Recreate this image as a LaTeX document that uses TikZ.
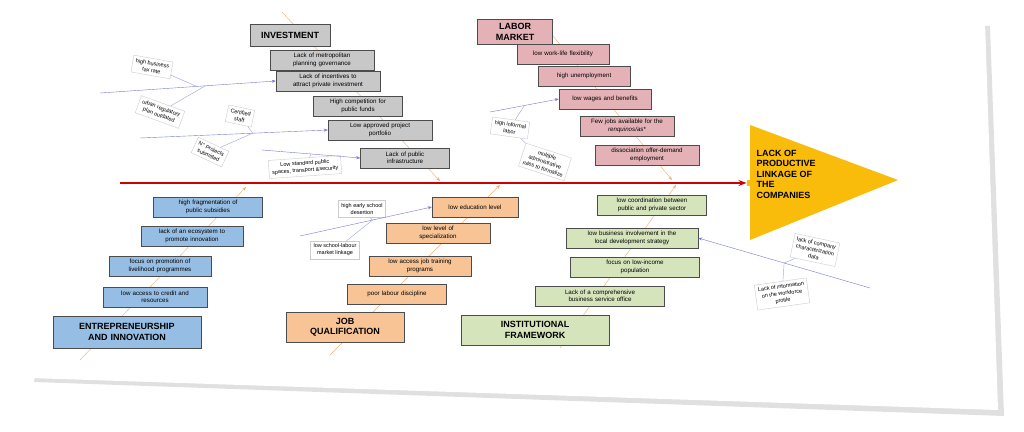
\documentclass[tikz,border=0pt]{standalone}
\usepackage{fontspec}
\setmainfont{Liberation Sans}
\usetikzlibrary{arrows.meta,calc}
\definecolor{invgray}{RGB}{200,200,200}
\definecolor{labpink}{RGB}{228,178,182}
\definecolor{entblue}{RGB}{150,190,228}
\definecolor{joborange}{RGB}{248,196,150}
\definecolor{insgreen}{RGB}{214,228,188}
\definecolor{headyellow}{RGB}{250,188,10}
\tikzstyle{cause}=[draw=black!70, thin, align=center, font=\fontsize{6.2}{7.4}\selectfont, inner sep=2pt, minimum height=20pt]
\tikzstyle{title}=[draw=black!70, thin, align=center, font=\bfseries\fontsize{9}{10.5}\selectfont, inner sep=4pt]
\tikzstyle{note}=[draw=black!20, fill=white, thin, align=center, font=\fontsize{5.5}{7}\selectfont, inner sep=3pt]
\tikzstyle{bone}=[draw=orange!50!brown!60, thin, -{Stealth[length=4pt]}]
\tikzstyle{sub}=[draw=blue!50!gray!70, thin, -{Stealth[length=4pt]}]
\tikzstyle{twig}=[draw=blue!50!gray!50, thin]

\begin{document}
\begin{tikzpicture}[x=1pt, y=-1pt]
\useasboundingbox (0,0) rectangle (1024,431);

% sheet
\fill[black!12] (98,12) -- (990,26) -- (1004,416) -- (34,382) -- cycle;
\fill[white] (94,8) -- (985,22) -- (998,410) -- (30,378) -- cycle;

% head
\node[fill=headyellow, minimum width=1pt] (head) at (750,183) {};
\fill[headyellow] (750,125) -- (898,180) -- (750,240) -- cycle;
\node[align=left, font=\bfseries\fontsize{9}{10.5}\selectfont, anchor=west] (effect) at (753,174) {LACK OF\\PRODUCTIVE\\LINKAGE OF\\THE\\COMPANIES};
\coordinate (tail) at (120,183);
\draw[very thick, red!80!black, -{Stealth[length=8pt]}] (tail) -- (head.west);

% investment
\coordinate (i0) at (282,12);
\coordinate (i1) at (440,181);
\draw[bone] (i0) -- (i1);
\node[title, fill=invgray, minimum width=80pt, minimum height=22pt] (inv) at (290,35) {INVESTMENT};
\node[cause, fill=invgray, text width=100pt] (inv1) at (322,60) {Lack of metropolitan\\planning governance};
\node[cause, fill=invgray, text width=100pt] (inv2) at (328,81) {Lack of incentives to\\attract private investment};
\node[cause, fill=invgray, text width=85pt] (inv3) at (358,106) {High competition for\\public funds};
\node[cause, fill=invgray, text width=100pt] (inv4) at (380,130) {Low approved project\\portfolio};
\node[cause, fill=invgray, text width=85pt] (inv5) at (405,158) {Lack of public\\infrastructure};

% labor market
\coordinate (l0) at (548,30);
\coordinate (l1) at (672,180);
\draw[bone] (l0) -- (l1);
\node[title, fill=labpink, minimum width=75pt] (lab) at (515,32) {LABOR\\MARKET};
\node[cause, fill=labpink, text width=88pt] (lab1) at (563,54) {low work-life flexibility};
\node[cause, fill=labpink, text width=88pt] (lab2) at (584,76) {high unemployment};
\node[cause, fill=labpink, text width=88pt] (lab3) at (605,99) {low wages and benefits};
\node[cause, fill=labpink, text width=90pt] (lab4) at (627,126) {Few jobs available for the\\\textit{renquinos/as}*};
\node[cause, fill=labpink, text width=100pt] (lab5) at (647,155) {dissociation offer-demand\\employment};

% entrepreneurship
\coordinate (e0) at (80,360);
\coordinate (e1) at (246,187);
\draw[bone] (e0) -- (e1);
\node[title, fill=entblue, text width=140pt, minimum height=32pt] (ent) at (127,332) {ENTREPRENEURSHIP\\AND INNOVATION};
\node[cause, fill=entblue, text width=100pt] (ent1) at (155,297) {low access to credit and\\resources};
\node[cause, fill=entblue, text width=98pt] (ent2) at (160,266) {focus on promotion of\\livelihood programmes};
\node[cause, fill=entblue, text width=98pt] (ent3) at (192,236) {lack of an ecosystem to\\promote innovation};
\node[cause, fill=entblue, text width=105pt] (ent4) at (208,207) {high fragmentation of\\public subsidies};

% job qualification
\coordinate (j0) at (330,355);
\coordinate (j1) at (500,185);
\draw[bone] (j0) -- (j1);
\node[title, fill=joborange, text width=110pt, minimum height=30pt] (job) at (345,327) {JOB\\QUALIFICATION};
\node[cause, fill=joborange, text width=95pt] (job1) at (397,294) {poor labour discipline};
\node[cause, fill=joborange, text width=98pt] (job2) at (420,266) {low access job training\\programs};
\node[cause, fill=joborange, text width=100pt] (job3) at (438,233) {low level of\\specialization};
\node[cause, fill=joborange, text width=82pt] (job4) at (475,207) {low education level};

% institutional framework
\coordinate (f0) at (560,348);
\coordinate (f1) at (676,185);
\draw[bone] (f0) -- (f1);
\node[title, fill=insgreen, text width=140pt, minimum height=30pt] (ins) at (535,330) {INSTITUTIONAL\\FRAMEWORK};
\node[cause, fill=insgreen, text width=125pt] (ins1) at (600,296) {Lack of a comprehensive\\business service office};
\node[cause, fill=insgreen, text width=125pt] (ins2) at (635,267) {focus on low-income\\population};
\node[cause, fill=insgreen, text width=128pt] (ins3) at (632,238) {low business involvement in the\\local development strategy};
\node[cause, fill=insgreen, text width=105pt] (ins4) at (652,205) {low coordination between\\public and private sector};

% sub-causes
\node[note, rotate=-10] (n1) at (152,67) {high business\\tax rate};
\node[note, rotate=-20] (n2) at (160,112) {urban regulatory\\plan outdated};
\node[note, rotate=-12] (n3) at (240,116) {Certified\\staff};
\node[note, rotate=-25] (n4) at (210,152) {N° Projects\\submitted};
\node[note, rotate=4] (n5) at (305,167) {Low standard public\\spaces, transport \&security};
\node[note, rotate=-8] (n6) at (510,128) {high informal\\labor};
\node[note, rotate=-18] (n7) at (545,162) {multiple\\administrative\\rules to formalize};
\node[note] (n8) at (362,209) {high early school\\desertion};
\node[note] (n9) at (335,250) {low school-labour\\market linkage};
\node[note, rotate=-12] (n10) at (815,250) {lack of company\\characterization\\data};
\node[note, rotate=8] (n11) at (782,294) {Lack of information\\on the workforce\\profile};

\coordinate (s1) at (100,93);
\coordinate (s2) at (140,138);
\coordinate (s3) at (262,150);
\coordinate (s4) at (490,112);
\coordinate (s5) at (300,236);
\coordinate (s6) at (870,288);
\draw[sub] (s1) -- (inv2.west);
\draw[sub] (s2) -- (inv4.west);
\draw[sub] (s3) -- (inv5.west);
\draw[sub] (s4) -- (lab3.west);
\draw[sub] (s5) -- (job4.west);
\draw[sub] (s6) -- (ins3.east);
\draw[twig] (n1) -- ($(s1)!0.55!(inv2.west)$);
\draw[twig] (n2) -- ($(s1)!0.6!(inv2.west)$);
\draw[twig] (n3) -- ($(s2)!0.6!(inv4.west)$);
\draw[twig] (n4) -- ($(s2)!0.6!(inv4.west)$);
\draw[twig] (n5) -- ($(s3)!0.5!(inv5.west)$);
\draw[twig] (n6) -- ($(s4)!0.5!(lab3.west)$);
\draw[twig] (n7) -- (n6);
\draw[twig] (n8) -- ($(s5)!0.55!(job4.west)$);
\draw[twig] (n9) -- ($(s5)!0.55!(job4.west)$);
\draw[twig] (n10) -- ($(s6)!0.5!(ins3.east)$);
\draw[twig] (n11) -- ($(s6)!0.5!(ins3.east)$);

\end{tikzpicture}
\end{document}
